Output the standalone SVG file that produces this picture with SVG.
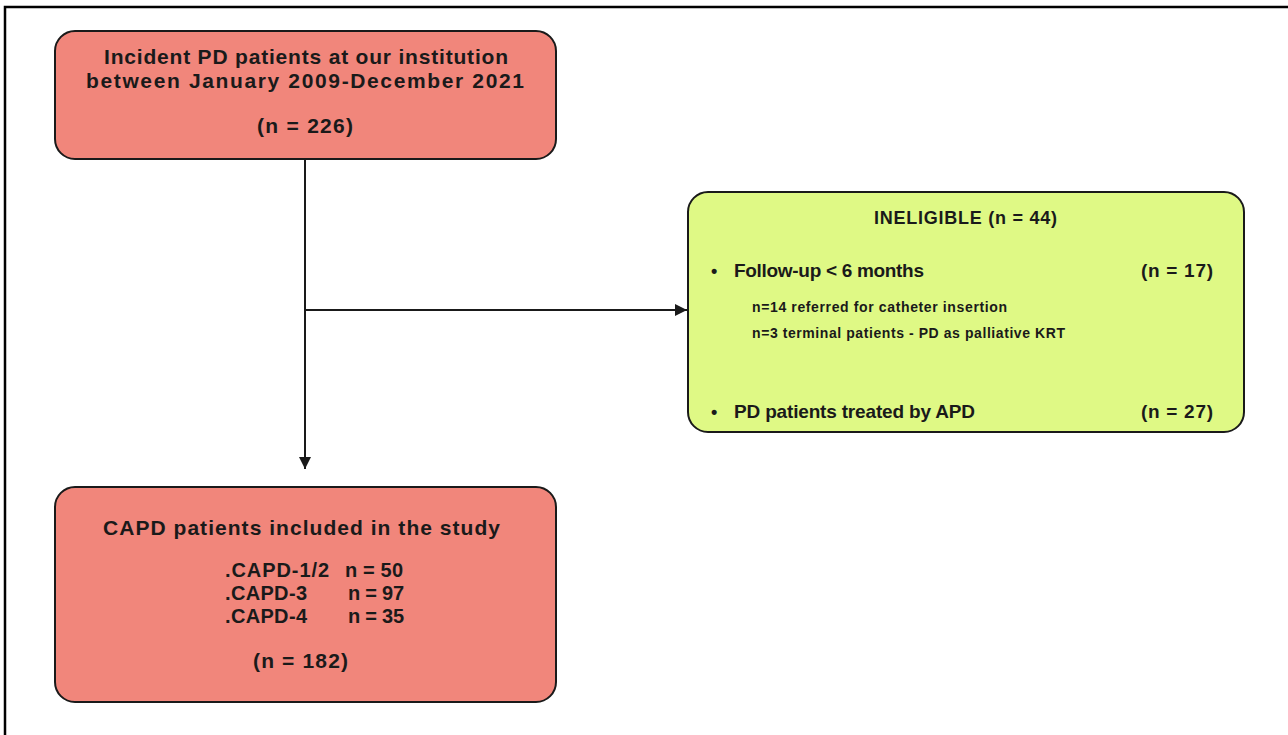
<svg xmlns="http://www.w3.org/2000/svg" width="1288" height="735" viewBox="0 0 1288 735">
<style>
.t{font-family:"Liberation Sans",Arial,sans-serif;font-weight:bold;fill:#1a1a1a}
.red{fill:#F1867B;stroke:#1a1a1a;stroke-width:2}
.grn{fill:#DFF985;stroke:#1a1a1a;stroke-width:2}
.c{stroke:#1a1a1a;stroke-width:2;fill:none}
</style>
<defs>
<marker id="ah" viewBox="0 0 10 10" refX="10" refY="5" markerWidth="12" markerHeight="12" markerUnits="userSpaceOnUse" orient="auto">
<path d="M0,0 L10,5 L0,10 z" fill="#1a1a1a"/>
</marker>
</defs>
<rect width="1288" height="735" fill="#fff"/>
<path d="M5,735 V7 H1288" stroke="#000" stroke-width="2.5" fill="none"/>
<g id="connectors">
<path class="c" d="M305,159 V469" marker-end="url(#ah)"/>
<path class="c" d="M305,310 H687" marker-end="url(#ah)"/>
</g>
<g id="node-incident">
<rect class="red" x="55" y="31" width="501" height="128" rx="20"/>
<text class="t" x="104" y="64" font-size="21" textLength="404" lengthAdjust="spacing">Incident PD patients at our institution</text>
<text class="t" x="86" y="88" font-size="21" textLength="438" lengthAdjust="spacing">between January 2009-December 2021</text>
<text class="t" x="257" y="133" font-size="21" textLength="96" lengthAdjust="spacing">(n = 226)</text>
</g>
<g id="node-ineligible">
<rect class="grn" x="688" y="192" width="556" height="240" rx="20"/>
<text class="t" x="874" y="224" font-size="18" textLength="183" lengthAdjust="spacing">INELIGIBLE (n = 44)</text>
<text class="t" x="711" y="277" font-size="18">•</text>
<text class="t" x="734" y="277" font-size="19" textLength="190" lengthAdjust="spacing">Follow-up &lt; 6 months</text>
<text class="t" x="1141" y="277" font-size="19" textLength="72" lengthAdjust="spacing">(n = 17)</text>
<text class="t" x="752" y="312" font-size="14" textLength="255" lengthAdjust="spacing">n=14 referred for catheter insertion</text>
<text class="t" x="752" y="338" font-size="14" textLength="313" lengthAdjust="spacing">n=3 terminal patients - PD as palliative KRT</text>
<text class="t" x="711" y="418" font-size="18">•</text>
<text class="t" x="734" y="418" font-size="19" textLength="241" lengthAdjust="spacing">PD patients treated by APD</text>
<text class="t" x="1141" y="418" font-size="19" textLength="72" lengthAdjust="spacing">(n = 27)</text>
</g>
<g id="node-capd">
<rect class="red" x="55" y="487" width="501" height="215" rx="20"/>
<text class="t" x="103" y="535" font-size="21" textLength="397" lengthAdjust="spacing">CAPD patients included in the study</text>
<text class="t" x="225" y="577" font-size="20" textLength="104" lengthAdjust="spacing">.CAPD-1/2</text>
<text class="t" x="345" y="577" font-size="20" textLength="58" lengthAdjust="spacing">n = 50</text>
<text class="t" x="225" y="600" font-size="20" textLength="82" lengthAdjust="spacing">.CAPD-3</text>
<text class="t" x="348" y="600" font-size="20" textLength="56" lengthAdjust="spacing">n = 97</text>
<text class="t" x="225" y="623" font-size="20" textLength="82" lengthAdjust="spacing">.CAPD-4</text>
<text class="t" x="348" y="623" font-size="20" textLength="56" lengthAdjust="spacing">n = 35</text>
<text class="t" x="253" y="668" font-size="21" textLength="95" lengthAdjust="spacing">(n = 182)</text>
</g>
</svg>
